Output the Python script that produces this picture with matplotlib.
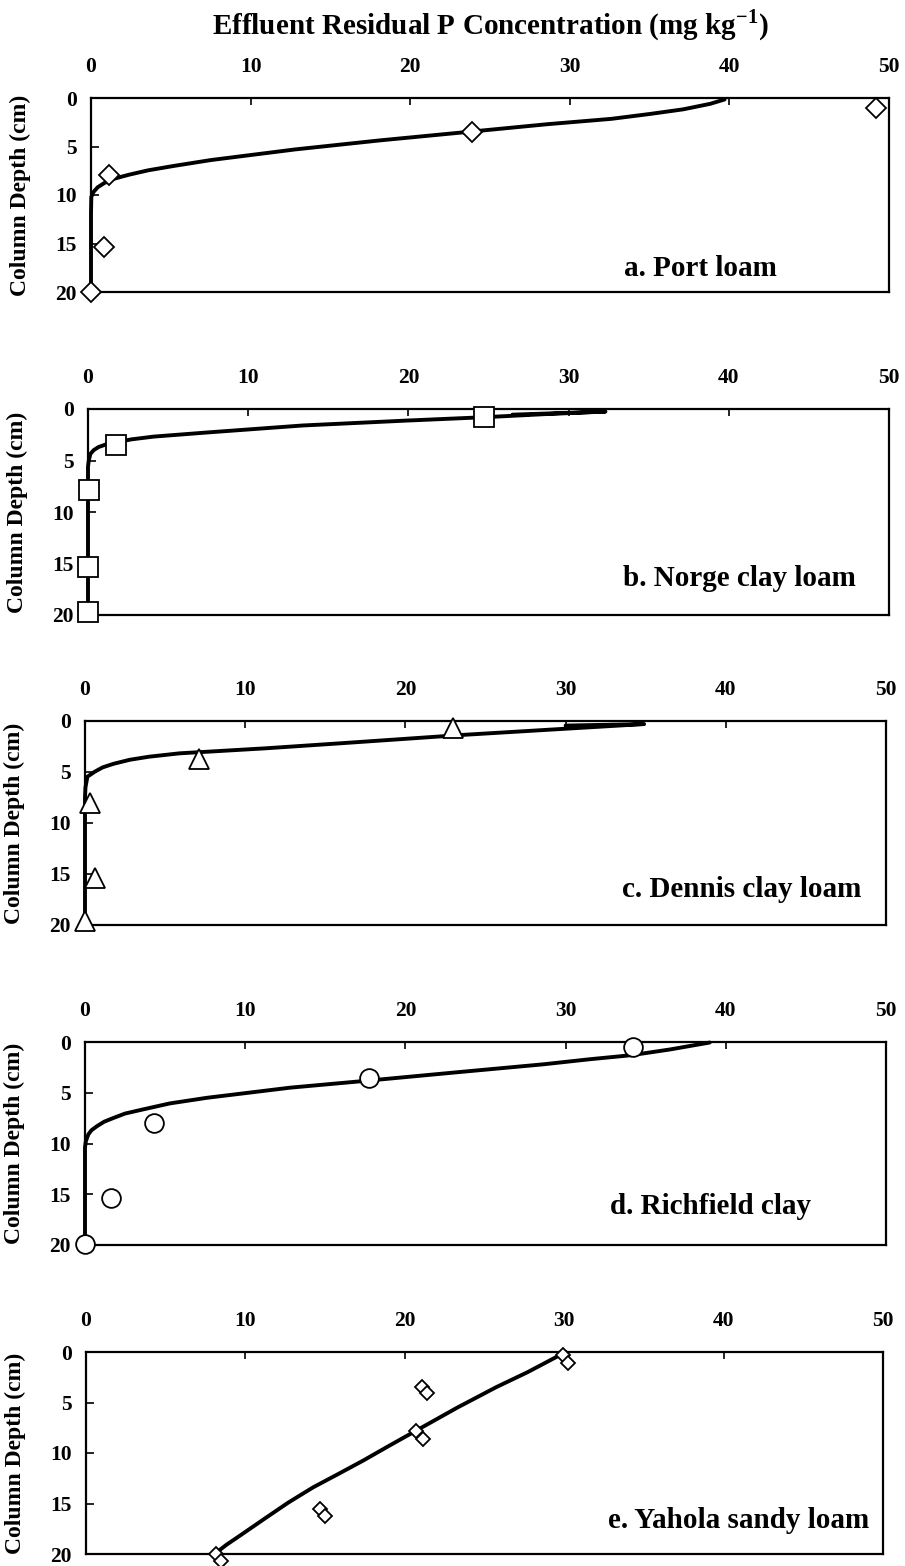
import matplotlib
matplotlib.use("Agg")
import matplotlib.pyplot as plt

plt.rcParams["font.family"] = ["Liberation Serif", "DejaVu Serif"]
plt.rcParams["font.weight"] = "bold"
plt.rcParams["mathtext.fontset"] = "custom"
plt.rcParams["mathtext.rm"] = "Liberation Serif:bold"
plt.rcParams["mathtext.bf"] = "Liberation Serif:bold"

# ---- measured residual P (markers) ----
port_conc = [49.2, 23.9, 1.1, 0.8, 0.0]
port_depth = [1.0, 3.5, 7.9, 15.4, 20.0]

norge_conc = [24.7, 1.75, 0.05, 0.0, 0.0]
norge_depth = [0.75, 3.5, 7.9, 15.3, 19.7]

dennis_conc = [23.0, 7.1, 0.3, 0.65, 0.0]
dennis_depth = [0.7, 3.75, 8.0, 15.4, 19.6]

richfield_conc = [34.2, 17.7, 4.3, 1.6, 0.0]
richfield_depth = [0.5, 3.5, 8.0, 15.4, 19.9]

yahola_conc_1 = [29.9, 21.1, 20.7, 14.7, 8.15]
yahola_depth_1 = [0.33, 3.46, 7.84, 15.5, 20.0]
yahola_conc_2 = [30.25, 21.4, 21.15, 15.0, 8.5]
yahola_depth_2 = [1.1, 4.07, 8.66, 16.2, 20.7]

# ---- fitted profiles (lines) ----
port_fit_conc = [39.7, 38.8, 37.1, 35.0, 32.6, 28.6, 23.9, 18.1, 12.8, 7.5, 5.2,
                 3.6, 2.4, 1.5, 0.85, 0.42, 0.15, 0.02, 0.0, 0.0]
port_fit_depth = [0.15, 0.6, 1.17, 1.65, 2.15, 2.7, 3.45, 4.37, 5.3, 6.4, 7.0,
                  7.45, 7.9, 8.3, 8.75, 9.2, 9.7, 10.2, 11.9, 20.0]

norge_fit_conc = [26.5, 32.3, 28.5, 24.7, 19.8, 13.4, 7.6, 4.1, 2.7, 1.8, 1.1,
                  0.65, 0.35, 0.15, 0.05, 0.0, 0.0]
norge_fit_depth = [0.55, 0.25, 0.5, 0.8, 1.13, 1.6, 2.26, 2.68, 2.95, 3.23, 3.45,
                   3.7, 4.0, 4.36, 5.0, 5.6, 20.0]

dennis_fit_conc = [30.0, 34.9, 29.0, 23.5, 15.9, 11.25, 5.9, 4.0, 2.8, 1.77, 1.1,
                   0.61, 0.15, 0.03, 0.0, 0.0]
dennis_fit_depth = [0.45, 0.3, 0.85, 1.37, 2.19, 2.68, 3.17, 3.5, 3.8, 4.2, 4.55,
                    4.97, 5.46, 6.5, 7.5, 20.0]

richfield_fit_conc = [39.0, 36.5, 34.1, 31.5, 28.6, 23.3, 17.7, 12.8, 7.6, 5.3,
                      3.6, 2.5, 1.8, 1.2, 0.74, 0.4, 0.21, 0.05, 0.0, 0.0]
richfield_fit_depth = [0.05, 0.74, 1.3, 1.7, 2.2, 2.97, 3.8, 4.5, 5.5, 6.05,
                       6.65, 7.05, 7.47, 7.85, 8.3, 8.7, 9.1, 9.8, 10.4, 20.0]

yahola_fit_conc = [30.1, 28.9, 27.7, 25.75, 23.3, 20.73, 19.0, 17.4, 15.8, 14.25,
                   12.7, 11.3, 9.64, 8.8, 8.07]
yahola_fit_depth = [0.0, 1.0, 2.0, 3.47, 5.5, 7.77, 9.3, 10.74, 12.1, 13.4,
                    14.9, 16.4, 18.2, 19.1, 20.0]

panel_labels = ["a. Port loam", "b. Norge clay loam", "c. Dennis clay loam",
                "d. Richfield clay", "e. Yahola sandy loam"]
x_ticks = [0, 10, 20, 30, 40, 50]
y_ticks = [0, 5, 10, 15, 20]

W, H = 905, 1566
fig = plt.figure(figsize=(W / 100, H / 100), dpi=100)

# frame boxes in pixels: left, right, top, bottom
boxes = [(91, 889, 98, 292), (88, 889, 409, 615), (85, 886, 721, 925),
         (85, 886, 1042, 1245), (86, 883, 1352, 1554)]
label_right = [777, 856, 861, 811, 869]
label_y = [268, 579, 890, 1207, 1520]

axes = []
for (l, r, t, b) in boxes:
    ax = fig.add_axes([l / W, 1 - b / H, (r - l) / W, (b - t) / H])
    ax.set_xlim(0, 50)
    ax.set_ylim(20, 0)
    ax.set_xticks(x_ticks)
    ax.set_yticks(y_ticks)
    ax.xaxis.tick_top()
    ax.tick_params(axis="x", direction="in", length=5, width=1.2, pad=15,
                   labelsize=15.5, top=True, bottom=False)
    ax.tick_params(axis="y", direction="in", length=6, width=1.2, pad=10,
                   labelsize=15.5, left=True, right=False)
    for lab in ax.get_xticklabels() + ax.get_yticklabels():
        lab.set_fontweight("bold")
    for sp in ax.spines.values():
        sp.set_linewidth(1.6)
    ax.set_ylabel("Column Depth (cm)", fontsize=17, fontweight="bold")
    ax.yaxis.set_label_coords(-60 / (r - l), 0.5)
    axes.append(ax)

line_kw = dict(color="black", lw=2.8, solid_capstyle="round",
               solid_joinstyle="round", clip_on=False, zorder=3)
mk_kw = dict(ls="none", mfc="white", mec="black", mew=1.3, clip_on=False, zorder=4)

axes[0].plot(port_fit_conc, port_fit_depth, **line_kw)
axes[0].plot(port_conc, port_depth, marker="D", ms=10, **mk_kw)

axes[1].plot(norge_fit_conc, norge_fit_depth, **line_kw)
axes[1].plot(norge_conc, norge_depth, marker="s", ms=14, **mk_kw)

axes[2].plot(dennis_fit_conc, dennis_fit_depth, **line_kw)
axes[2].plot(dennis_conc, dennis_depth, marker="^", ms=14, **mk_kw)

axes[3].plot(richfield_fit_conc, richfield_fit_depth, **line_kw)
axes[3].plot(richfield_conc, richfield_depth, marker="o", ms=13.5, **mk_kw)

axes[4].plot(yahola_fit_conc, yahola_fit_depth, **line_kw)
axes[4].plot(yahola_conc_1, yahola_depth_1, marker="D", ms=6.8, **mk_kw)
axes[4].plot(yahola_conc_2, yahola_depth_2, marker="D", ms=6.8, **mk_kw)

for text, xr, yc in zip(panel_labels, label_right, label_y):
    fig.text(xr / W, 1 - yc / H, text, ha="right", va="center",
             fontsize=21, fontweight="bold")

fig.text(490 / W, 1 - 25 / H, r"Effluent Residual P Concentration (mg kg$^{-1}$)",
         ha="center", va="center", fontsize=21, fontweight="bold")

fig.savefig("out.png", dpi=100, facecolor="white")
